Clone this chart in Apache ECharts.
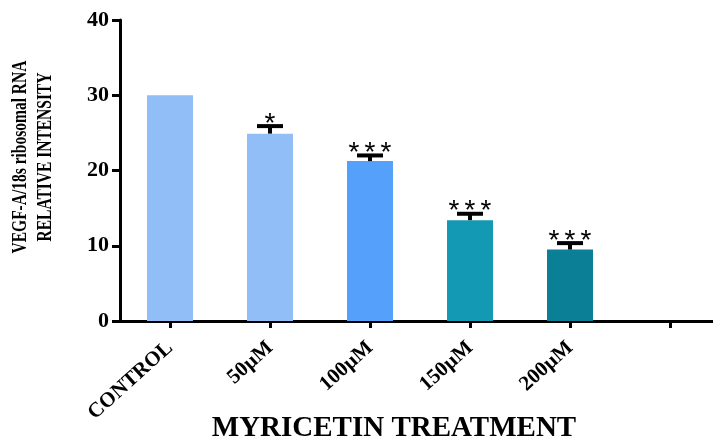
<!DOCTYPE html>
<html>
<head>
<meta charset="utf-8">
<script src="https://cdn.jsdelivr.net/npm/echarts@6/dist/echarts.min.js"></script>
<style>
  html, body { margin: 0; padding: 0; background: #fff; }
  #main { width: 713px; height: 440px; }
</style>
</head>
<body>
<div id="main"></div>
<script>
// 图表数据
const categories = ['CONTROL', '50µM', '100µM', '150µM', '200µM', ''];
const values = [30, 24.9, 21.25, 13.4, 9.5];
const errors = [0, 1.0, 0.75, 0.85, 0.85];
const stars = ['', '*', '***', '***', '***'];
const yTicks = [0, 10, 20, 30, 40];

const barColors = ['#92BEF8', '#92BEF8', '#55A0FB', '#1399B4', '#0A7F96'];
const serif = '"Liberation Serif", "Times New Roman", serif';

const chart = echarts.init(document.getElementById('main'));

const option = {
  animation: false,
  grid: { left: 120, top: 20, width: 600, height: 301, outerBoundsMode: 'none', containLabel: false },
  xAxis: {
    type: 'category',
    data: categories,
    name: 'MYRICETIN TREATMENT',
    nameLocation: 'middle',
    nameGap: 93,
    nameMoveOverlap: false,
    nameTextStyle: {
      fontFamily: serif, fontWeight: 'bold', fontSize: 29, color: '#000',
      padding: [0, 52, 0, 0]
    },
    axisLine: { lineStyle: { color: '#000', width: 3 } },
    axisTick: { show: true, interval: 0, alignWithLabel: true, length: 7, lineStyle: { color: '#000', width: 3 } },
    axisLabel: {
      rotate: 42, margin: 24, interval: 0,
      fontFamily: serif, fontWeight: 'bold', fontSize: 21, color: '#000'
    }
  },
  yAxis: {
    type: 'value',
    min: yTicks[0],
    max: yTicks[yTicks.length - 1],
    interval: 10,
    axisLine: { show: true, lineStyle: { color: '#000', width: 3 } },
    axisTick: { show: true, length: 8, lineStyle: { color: '#000', width: 3 } },
    splitLine: { show: false },
    axisLabel: { margin: 11, fontFamily: serif, fontWeight: 'bold', fontSize: 22, color: '#000' }
  },
  graphic: [
    {
      type: 'text',
      x: 33, y: 157,
      rotation: Math.PI / 2,
      scaleY: 1.35,
      style: {
        text: 'VEGF-A/18s ribosomal RNA\nRELATIVE INTENSITY',
        font: 'bold 15.5px ' + serif,
        fill: '#000',
        align: 'center',
        verticalAlign: 'middle',
        lineHeight: 18
      }
    }
  ],
  series: [
    {
      type: 'bar',
      data: values,
      barWidth: 46,
      itemStyle: { color: (p) => barColors[p.dataIndex] }
    },
    {
      // 误差线和显著性星号
      type: 'custom',
      data: values.map((v, i) => [i, v, errors[i]]),
      z: 5,
      renderItem: function (params, api) {
        const i = api.value(0);
        const v = api.value(1);
        const e = api.value(2);
        if (!e) return null;
        const top = api.coord([i, v]);
        const cap = api.coord([i, v + e]);
        const st = { stroke: '#000', lineWidth: 4 };
        const children = [
          { type: 'line', shape: { x1: top[0], y1: top[1], x2: cap[0], y2: cap[1] }, style: st },
          { type: 'line', shape: { x1: cap[0] - 13, y1: cap[1], x2: cap[0] + 13, y2: cap[1] }, style: st }
        ];
        const n = stars[params.dataIndex].length;
        for (let k = 0; k < n; k++) {
          children.push({
            type: 'text',
            x: cap[0] + (k - (n - 1) / 2) * 16,
            y: cap[1] - 2,
            style: {
              text: '*',
              font: '28px "Liberation Sans", Arial, sans-serif',
              fill: '#000',
              align: 'center',
              verticalAlign: 'middle'
            }
          });
        }
        return { type: 'group', children: children };
      }
    }
  ]
};

option && chart.setOption(option);
</script>
</body>
</html>
